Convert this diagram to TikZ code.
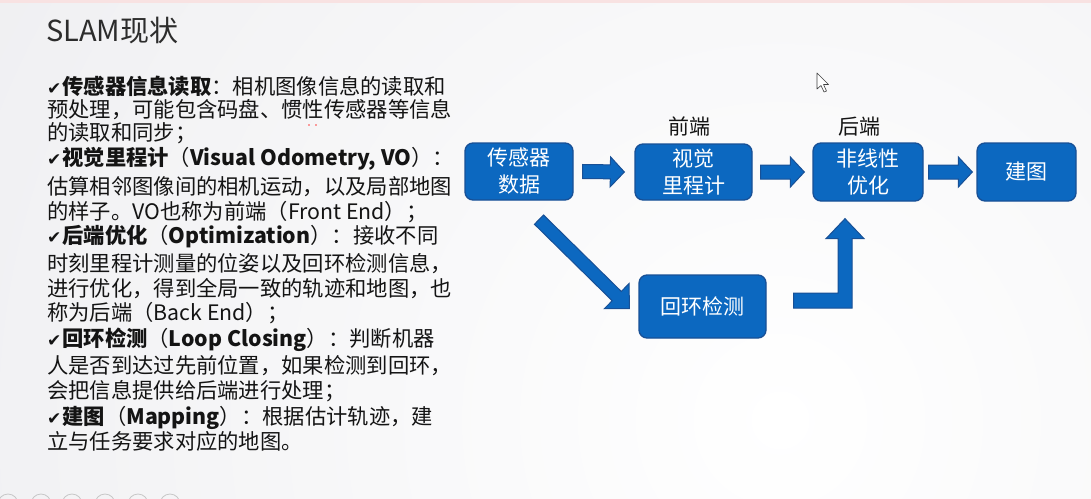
\documentclass[tikz,border=0pt]{standalone}
\usepackage{fontspec}
\setmainfont{Noto Sans CJK SC}
\newfontfamily\symfont{DejaVu Sans}
\usetikzlibrary{calc}
\definecolor{boxfill}{RGB}{12,104,192}
\definecolor{boxline}{RGB}{24,80,150}
\definecolor{bgout}{RGB}{236,236,239}
\definecolor{pinkish}{RGB}{248,226,226}
\definecolor{txt}{RGB}{20,20,20}
\newcommand\chk{{\symfont\fontsize{17}{20}\selectfont ✔\hspace{1pt}}}
% straight block arrow: from, to, shaft half width, head half width, head length
\newcommand\barrow[5]{%
  \path[blk] let \p1=(#1), \p2=(#2), \n1={atan2(\y2-\y1,\x2-\x1)} in
    ($(\p1)+(\n1+90:#3)$)
    -- ($(\p2)+(\n1+180:#5)+(\n1+90:#3)$)
    -- ($(\p2)+(\n1+180:#5)+(\n1+90:#4)$)
    -- (\p2)
    -- ($(\p2)+(\n1+180:#5)+(\n1-90:#4)$)
    -- ($(\p2)+(\n1+180:#5)+(\n1-90:#3)$)
    -- ($(\p1)+(\n1-90:#3)$) -- cycle;}
% L-shaped block arrow: horizontal start, then up to tip
\newcommand\larrow[2]{%
  \path[blk] let \p1=(#1), \p2=(#2) in
    (\x1,\y1+7.5pt) -- (\x2-7pt,\y1+7.5pt) -- (\x2-7pt,\y2-20pt) -- (\x2-19pt,\y2-20pt)
    -- (\x2,\y2) -- (\x2+19pt,\y2-20pt) -- (\x2+7pt,\y2-20pt) -- (\x2+7pt,\y1-7.5pt)
    -- (\x1,\y1-7.5pt) -- cycle;}
\tikzset{
  box/.style={draw=boxline, line width=1.3pt, fill=boxfill, rounded corners=8pt,
    text=white, font=\fontsize{21}{27}\selectfont, align=center, inner sep=0pt},
  blk/.style={fill=boxfill, draw=boxline, line width=1pt, line join=miter},
  lbl/.style={inner sep=0pt, text=txt, font=\fontsize{21}{25}\selectfont},
  body/.style={anchor=base west, inner sep=0pt, text=txt, font=\fontsize{21.3}{26}\selectfont},
  ttl/.style={anchor=base west, inner sep=0pt, text=txt!90, font=\fontsize{29}{32}\selectfont},
}
\begin{document}
\begin{tikzpicture}[x=1pt,y=-1pt]
\useasboundingbox (0,0) rectangle (1091,498);
% background
\begin{scope}
  \clip (0,0) rectangle (1091,498);
  \fill[bgout] (0,0) rectangle (1091,498);
  \shade[inner color=white, outer color=bgout] (780,420) circle (1100pt);
  \fill[pinkish] (0,0) rectangle (1091,3);
  \foreach \cx in {8,41,72,105,138,170}
    \draw[black!22, line width=0.8pt] (\cx,504) circle (10pt);
\end{scope}
% title
\node[ttl] (title) at (46,41) {SLAM现状};
% body text
\node[body] (l1) at (47,94) {\chk{\bfseries 传感器信息读取}：相机图像信息的读取和};
\node[body] (l2) at (47,117) {预处理，可能包含码盘、惯性传感器等信息};
\node[body] (l3) at (47,140) {的读取和同步；};
\node[body] (l4) at (47,165) {\chk{\bfseries 视觉里程计}（{\bfseries Visual Odometry, VO}）：};
\node[body] (l5) at (47,194) {估算相邻图像间的相机运动，以及局部地图};
\node[body] (l6) at (47,219) {的样子。VO也称为前端（Front End）；};
\node[body] (l7) at (47,243) {\chk{\bfseries 后端优化}（{\bfseries Optimization}）：接收不同};
\node[body] (l8) at (47,271) {时刻里程计测量的位姿以及回环检测信息，};
\node[body] (l9) at (47,296) {进行优化，得到全局一致的轨迹和地图，也};
\node[body] (l10) at (47,320) {称为后端（Back End）；};
\node[body] (l11) at (47,346) {\chk{\bfseries 回环检测}（{\bfseries Loop Closing}）：判断机器};
\node[body] (l12) at (47,373) {人是否到达过先前位置，如果检测到回环，};
\node[body] (l13) at (47,398) {会把信息提供给后端进行处理；};
\node[body] (l14) at (47,424) {\chk{\bfseries 建图}（{\bfseries Mapping}）：根据估计轨迹，建};
\node[body] (l15) at (47,449) {立与任务要求对应的地图。};
% small red marks
\fill[red!75] (309,125) circle (0.9pt) (316,125) circle (0.9pt);
% diagram boxes
\node[box, minimum width=108pt, minimum height=57pt] (s) at (519,171.5) {传感器\\数据};
\node[box, minimum width=117pt, minimum height=56pt] (v) at (693.5,172) {视觉\\里程计};
\node[box, minimum width=110pt, minimum height=58pt] (n) at (868,172) {非线性\\优化};
\node[box, minimum width=99pt, minimum height=58pt] (m) at (1026.5,172) {建图};
\node[box, minimum width=127pt, minimum height=63pt] (lp) at (702.5,306.5) {回环检测};
\node[lbl] (fe) at (689,126) {前端};
\node[lbl] (be) at (859,127) {后端};
% block arrows
\barrow{$(s.east)+(9,0)$}{$(v.west)+(-10,0)$}{7pt}{15pt}{14pt}
\barrow{$(v.east)+(8,0)$}{$(n.west)+(-8,0)$}{7pt}{15pt}{14pt}
\barrow{$(n.east)+(5,0)$}{$(m.west)+(-4,0)$}{7pt}{15pt}{14pt}
\barrow{$(s.south)+(20,19)$}{$(lp.west)+(-9,2)$}{6.5pt}{17.7pt}{17.7pt}
\larrow{$(lp.east)+(27,-6)$}{$(n.south)+(-23,17)$}
% mouse pointer
\draw[fill=white, draw=black!75, line width=0.6pt, line join=round]
  (817,73) -- (817,89) -- (821,85.5) -- (824,92) -- (826.5,91) -- (823.5,84.5) -- (828.5,84.5) -- cycle;
\end{tikzpicture}
\end{document}
